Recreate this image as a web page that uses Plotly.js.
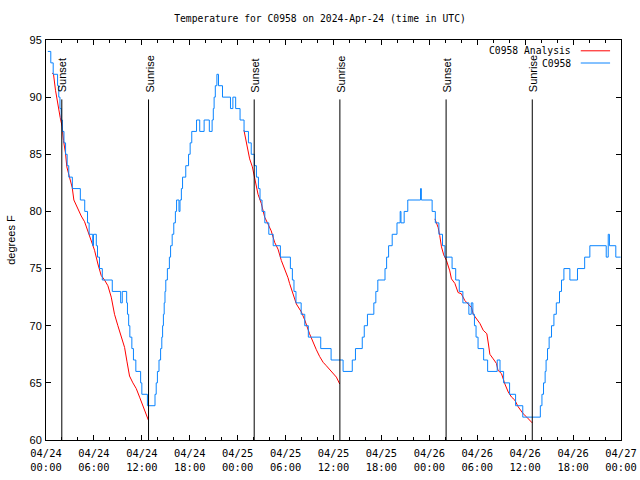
<!DOCTYPE html>
<html><head><meta charset="utf-8">
<script src="https://cdn.plot.ly/plotly-3.0.1.min.js"></script>
<style>html,body{margin:0;padding:0;background:#fff}#chart{width:640px;height:480px}</style>
</head><body><div id="chart"></div>
<script>
// Hours since 2024-04-24 00:00 UTC
const obsHours = [0.23,0.6,0.9,1.45,1.6,1.75,1.9,2.05,2.25,2.45,2.65,2.85,3.3,4.3,4.85,5.2,5.4,5.85,5.95,6.3,6.45,6.7,7.05,8.3,9.35,9.55,10.1,10.2,10.35,10.5,10.75,10.95,11.25,11.85,12.0,12.7,13.65,13.8,13.95,14.15,14.35,14.5,14.6,14.7,14.8,14.9,15.0,15.2,15.45,15.6,15.8,16.0,16.2,16.35,16.65,16.78,16.95,17.1,17.5,17.85,18.05,18.25,18.85,19.25,19.8,20.45,20.8,20.95,21.05,21.2,21.4,21.6,22.1,23.1,23.4,23.75,24.3,24.8,25.35,25.7,26.1,26.35,26.6,26.8,27.05,27.4,27.9,28.45,29.35,30.6,30.85,31.05,31.3,31.95,32.4,32.85,34.4,35.7,37.2,38.35,38.75,39.6,39.85,40.25,41.05,41.3,41.55,42.45,42.65,42.9,43.35,43.95,44.35,44.45,44.85,45.3,46.9,47.0,48.35,48.75,49.2,49.65,49.95,50.85,51.3,51.75,52.2,52.95,53.25,53.45,53.65,53.85,54.1,54.8,55.3,56.5,56.85,57.3,58.05,58.8,59.7,61.9,62.1,62.3,62.5,62.62,62.8,63.0,63.3,63.6,63.9,64.3,64.55,64.85,65.6,66.55,67.45,68.1,70.15,70.4,70.55,71.35,71.95];
const obsTemp = [94,93,92,91,90,89,88,87,86,85,84,83,82,81,80,79,78,77,78,77,76,75,74,73,72,73,72,71,70,69,68,67,66,65,64,63,64,65,66,67,68,69,70,71,72,73,74,75,76,77,78,79,80,81,80,81,82,83,84,85,86,87,88,87,88,87,88,89,90,91,92,91,90,89,90,89,88,87,86,85,84,83,82,81,80,79,78,77,76,75,74,73,72,71,70,69,68,67,66,67,68,69,70,71,72,73,74,75,76,77,78,79,80,79,80,81,82,81,80,79,78,77,76,75,74,73,72,71,72,71,70,69,68,67,66,67,66,65,64,63,62,63,64,65,66,67,68,69,70,71,72,73,74,75,74,75,76,77,76,78,77,76,76];

const anaHours = [0.77,0.94,1.19,1.48,1.78,2.03,2.19,2.44,2.61,2.94,3.28,3.49,3.86,4.41,4.83,5.24,5.66,6.08,6.5,6.91,7.33,7.75,8.17,8.58,9.0,9.42,9.84,10.13,10.46,10.88,11.3,11.72,12.13,12.55,12.84,
  null,
  24.79,25.17,25.5,25.84,26.13,26.55,26.96,27.38,27.8,28.2,28.63,29.05,29.47,29.9,30.3,30.5,30.9,31.35,31.98,32.4,33.0,33.44,33.85,34.27,34.7,35.1,35.5,35.95,36.36,36.78,
  null,
  48.7,49.1,49.3,49.52,49.8,50.15,50.56,50.77,51.2,51.6,52.0,52.45,52.86,53.28,53.5,53.9,54.33,54.75,55.2,55.4,55.58,56.0,56.4,56.6,57.04,57.46,57.88,58.3,58.7,59.13,59.75,60.2,60.6,60.88];
const anaTemp = [92.1,92.0,90.6,89.3,88.2,87.4,86.2,85.1,83.9,83.0,82.1,81.0,80.4,79.6,79.1,78.3,77.6,76.6,75.4,74.4,74.0,73.5,72.5,71.0,70.0,69.0,68.1,66.9,65.6,65.0,64.5,63.75,63.0,62.3,61.7,
  null,
  87.1,85.8,84.6,83.9,83.0,81.5,80.7,79.5,78.9,78.3,77.3,76.7,75.7,75.0,74.2,73.7,72.8,71.9,71.2,70.5,69.3,68.5,67.9,67.3,66.8,66.5,66.2,65.9,65.5,64.9,
  null,
  79.35,78.6,77.9,76.9,76.2,75.7,74.8,74.1,73.7,72.9,72.8,72.2,71.9,71.6,71.0,70.6,70.2,69.6,69.3,68.4,67.5,67.1,66.7,66.1,65.8,64.9,64.2,63.75,63.5,62.9,62.3,62.0,61.7,61.5];

const sunHours = [1.98,12.84,26.07,36.8,50.1,60.89];
const sunLabels = ['Sunset','Sunrise','Sunset','Sunrise','Sunset','Sunrise'];

const seriesNames = ['C0958 Analysis','C0958'];
const seriesColors = ['#ff0000','#0a84ff'];
const chartTitle = 'Temperature for C0958 on 2024-Apr-24 (time in UTC)';
const yTitle = 'degrees F';

function toDate(h){
  if (h === null) return null;
  const d = new Date(Date.UTC(2024,3,24) + Math.round(h*3600000));
  return d.toISOString().slice(0,19).replace('T',' ');
}

const MONO = 'DejaVu Sans Mono';
const SANS = 'Liberation Sans, Arial, sans-serif';

const traces = [
  {x: anaHours.map(toDate), y: anaTemp, type:'scatter', mode:'lines', name: seriesNames[0],
   line:{color: seriesColors[0], width:1}, connectgaps:false, hoverinfo:'skip'},
  {x: obsHours.map(toDate), y: obsTemp, type:'scatter', mode:'lines', name: seriesNames[1],
   line:{color: seriesColors[1], width:1, shape:'hv'}, hoverinfo:'skip'}
];

const shapes = sunHours.map(h => ({type:'line', xref:'x', yref:'y', x0: toDate(h), x1: toDate(h), y0:60, y1:89.8,
  line:{color:'#000', width:1}}));
const annotations = sunHours.map((h,i) => ({x: toDate(h), y: 89.8, xref:'x', yref:'y', text: sunLabels[i],
  textangle:-90, showarrow:false, xanchor:'center', yanchor:'bottom', xshift:1, yshift:5,
  font:{family:SANS, size:11, color:'#000'}}));

// gnuplot-style legend: text then line sample, top right
const legRows = [0.973, 0.9425];
seriesNames.forEach((nm,i) => {
  annotations.push({x:0.9165, y:legRows[i], xref:'paper', yref:'paper', text:nm, showarrow:false,
    xanchor:'right', yanchor:'middle', font:{family:MONO, size:9.7, color:'#000'}});
  shapes.push({type:'line', xref:'paper', yref:'paper', x0:0.930, x1:0.981, y0:legRows[i], y1:legRows[i],
    line:{color:seriesColors[i], width:1}});
});

const layout = {
  width:640, height:480,
  margin:{l:46, r:19, t:40, b:40, pad:0},
  paper_bgcolor:'#fff', plot_bgcolor:'#fff',
  showlegend:false,
  title:{text: chartTitle, font:{family:MONO, size:9.7, color:'#000'}, x:0.5, xref:'container', xanchor:'center',
    y:1-19/480, yref:'container', yanchor:'middle'},
  xaxis:{type:'date', range:[toDate(0), toDate(72)], tick0: toDate(0), dtick: 6*3600000,
    tickformat:'%m/%d<br>%H:%M', ticks:'inside', ticklen:5, tickcolor:'#000', tickwidth:1,
    showline:true, linecolor:'#000', linewidth:1, mirror:'ticks', showgrid:false, zeroline:false,
    minor:{dtick: 2*3600000, ticks:'inside', ticklen:3, tickcolor:'#000', showgrid:false},
    ticklabelstandoff:4,
    tickfont:{family:MONO, size:10.4, color:'#000'}, fixedrange:true},
  yaxis:{range:[60,95], tick0:60, dtick:5, ticks:'inside', ticklen:5, tickcolor:'#000', tickwidth:1,
    showline:true, linecolor:'#000', linewidth:1, mirror:'ticks', showgrid:false, zeroline:false,
    tickfont:{family:SANS, size:11, color:'#000'}, ticklabelstandoff:1,
    title:{text: yTitle, font:{family:SANS, size:11, color:'#000'}, standoff:11}, fixedrange:true},
  shapes: shapes,
  annotations: annotations
};

Plotly.newPlot('chart', traces, layout, {displayModeBar:false, staticPlot:true});
</script>
</body></html>
